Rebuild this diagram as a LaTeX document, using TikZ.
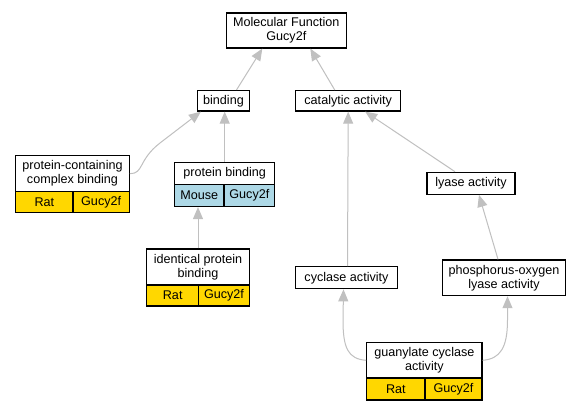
\documentclass[tikz,border=0pt]{standalone}
\usepackage{fontspec}
\setmainfont{Liberation Sans}
\usetikzlibrary{arrows.meta}
\definecolor{edgegray}{HTML}{C0C0C0}
\definecolor{gold}{HTML}{FFD700}
\definecolor{lblue}{HTML}{ADD8E6}
\begin{document}
\begin{tikzpicture}[x=1pt,y=-1pt,
  box/.style={draw=black,line width=1.2pt,fill=white,inner sep=0pt,align=center,
    font=\fontsize{12.6}{14}\selectfont},
  goldcell/.style={box,fill=gold},
  bluecell/.style={box,fill=lblue},
  edge/.style={draw=edgegray,line width=1pt,-{Triangle[length=12pt,width=10pt,fill=edgegray]}}]
\useasboundingbox[fill=white] (0,0) rectangle (581,411);
% nodes
\node[box,minimum width=120pt,minimum height=35pt] (mf) at (286.3,30.5) {Molecular Function\\Gucy2f};
\node[box,minimum width=52pt,minimum height=20.5pt] (bind) at (223.5,100.8) {binding};
\node[box,minimum width=105pt,minimum height=20.5pt] (cat) at (348.2,100.8) {catalytic activity};
% protein-containing complex binding
\node[box,minimum width=113.6pt,minimum height=36pt] (pcb) at (72.5,173.7) {protein-containing\\complex binding};
\node[goldcell,minimum width=57.3pt,minimum height=21pt] (pcbA) at (44.35,202.2) {Rat};
\node[goldcell,minimum width=56.3pt,minimum height=21pt] (pcbB) at (101.15,202.2) {Gucy2f};
% protein binding
\node[box,minimum width=100pt,minimum height=22pt] (pb) at (224.7,173.5) {protein binding};
\node[bluecell,minimum width=49.3pt,minimum height=22pt] (pbA) at (199.35,195.5) {Mouse};
\node[bluecell,minimum width=50.7pt,minimum height=22pt] (pbB) at (249.35,195.5) {Gucy2f};
% identical protein binding
\node[box,minimum width=102.6pt,minimum height=36pt] (idp) at (198,267) {identical protein\\binding};
\node[goldcell,minimum width=52pt,minimum height=21pt] (idpA) at (172.7,295.5) {Rat};
\node[goldcell,minimum width=50.6pt,minimum height=21pt] (idpB) at (224,295.5) {Gucy2f};
% lyase activity
\node[box,minimum width=88pt,minimum height=22pt] (lya) at (471,183.3) {lyase activity};
% cyclase activity
\node[box,minimum width=101.6pt,minimum height=22pt] (cyc) at (346.5,277.8) {cyclase activity};
% phosphorus-oxygen lyase activity
\node[box,minimum width=122.6pt,minimum height=35.7pt] (pho) at (504,277.8) {phosphorus-oxygen\\lyase activity};
% guanylate cyclase activity
\node[box,minimum width=115.3pt,minimum height=35.3pt] (gua) at (424.35,360.3) {guanylate cyclase\\activity};
\node[goldcell,minimum width=58.3pt,minimum height=22pt] (guaA) at (395.85,389) {Rat};
\node[goldcell,minimum width=57pt,minimum height=22pt] (guaB) at (453.5,389) {Gucy2f};
% edges
\draw[edge] ([xshift=13pt]bind.north) -- ([xshift=-24pt]mf.south);
\draw[edge] ([xshift=-13.5pt]cat.north) -- ([xshift=24pt]mf.south);
\draw[edge] (pcb.east) .. controls +(14,0) and (138,160) .. (160,143) -- ([xshift=4pt]bind.south west);
\draw[edge] (pb.north) -- (pb.north |- bind.south);
\draw[edge] (idp.north) -- (idp.north |- pbA.south);
\draw[edge] ([xshift=1pt]cyc.north) -- ([xshift=0pt]cat.south);
\draw[edge] ([xshift=-16pt]lya.north) -- ([xshift=17pt]cat.south);
\draw[edge] ([xshift=-6pt]pho.north) -- ([xshift=8pt]lya.south);
\draw[edge] (gua.west) .. controls (348,359) and (343,348) .. (343,320) -- ([xshift=-3pt]cyc.south);
\draw[edge] (gua.east) .. controls (500,359) and (507.5,348) .. (507.5,320) -- ([xshift=3.5pt]pho.south);
\end{tikzpicture}
\end{document}
